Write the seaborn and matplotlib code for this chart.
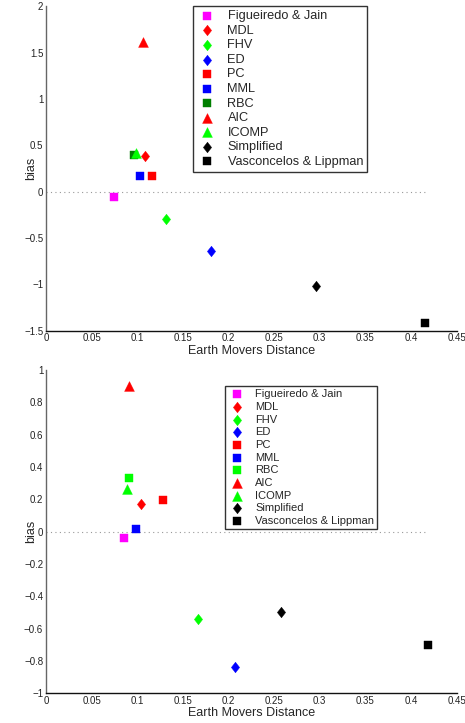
import numpy as np
import pandas as pd
import matplotlib
matplotlib.use("Agg")
import matplotlib.pyplot as plt
from matplotlib.path import Path
import seaborn as sns

# methods and their marker styles
methods = ["Figueiredo & Jain", "MDL", "FHV", "ED", "PC", "MML", "RBC",
           "AIC", "ICOMP", "Simplified", "Vasconcelos & Lippman"]

# top panel values
emd_top = [0.074, 0.1085, 0.1317, 0.181, 0.116, 0.103, 0.0964, 0.106, 0.099, 0.296, 0.4157]
bias_top = [-0.057, 0.38, -0.30, -0.637, 0.166, 0.166, 0.40, 1.62, 0.42, -1.018, -1.42]

# bottom panel values
emd_bot = [0.0858, 0.104, 0.1666, 0.2068, 0.1286, 0.099, 0.0913, 0.0913, 0.0884, 0.257, 0.4186]
bias_bot = [-0.041, 0.174, -0.543, -0.839, 0.197, 0.018, 0.334, 0.90, 0.263, -0.50, -0.70]

# matlab style diamond (a bit wider than mpl's thin diamond)
diamond = Path([(0, 1), (0.78, 0), (0, -1), (-0.78, 0), (0, 1)],
               [Path.MOVETO, Path.LINETO, Path.LINETO, Path.LINETO, Path.CLOSEPOLY])

markers = {"Figueiredo & Jain": "s", "MDL": "d", "FHV": "d", "ED": "d", "PC": "s",
           "MML": "s", "RBC": "s", "AIC": "^", "ICOMP": "^", "Simplified": "d",
           "Vasconcelos & Lippman": "s"}
colors_top = {"Figueiredo & Jain": "#ff00ff", "MDL": "#ff0000", "FHV": "#00ff00",
              "ED": "#0000ff", "PC": "#ff0000", "MML": "#0000ff", "RBC": "#007f00",
              "AIC": "#ff0000", "ICOMP": "#00ff00", "Simplified": "#000000",
              "Vasconcelos & Lippman": "#000000"}
colors_bot = dict(colors_top)
colors_bot["RBC"] = "#00ff00"
sizes = {"s": 26, "d": 58, "^": 50}

sns.set_style("white")
plt.rcParams['font.family'] = ['Liberation Sans', 'DejaVu Sans']

fig = plt.figure(figsize=(4.65, 7.23), dpi=100)
W, H = 465, 723


def panel(rect, emd, bias, colors, ylim, yticks, leg_anchor, leg_fs, leg_sp):
    ax = fig.add_axes(rect)
    df = pd.DataFrame({"emd": emd, "bias": bias, "method": methods})
    ax.plot([0, max(emd)], [0, 0], linestyle=(0, (1, 3)), color="#999999", lw=0.8, zorder=1)
    for m in methods:
        sub = df[df.method == m]
        mk = markers[m]
        sns.scatterplot(data=sub, x="emd", y="bias", ax=ax, color=colors[m],
                        marker=diamond if mk == "d" else mk, s=sizes[mk],
                        edgecolor=colors[m], linewidth=0.3, label=m, zorder=3)
    ax.set_xlim(0, 0.45)
    ax.set_ylim(*ylim)
    ax.set_xticks(np.arange(0, 0.451, 0.05))
    ax.set_xticklabels(["0", "0.05", "0.1", "0.15", "0.2", "0.25", "0.3", "0.35", "0.4", "0.45"])
    ax.set_yticks(yticks)
    ax.set_yticklabels([("%g" % v).replace("-", "\u2212") for v in yticks])
    ax.tick_params(direction="in", length=3, width=0.8, labelsize=7, pad=2,
                   colors="#222222")
    for s in ["top", "right"]:
        ax.spines[s].set_visible(False)
    ax.spines["left"].set_color("#666666")
    ax.spines["bottom"].set_color("#111111")
    ax.spines["left"].set_linewidth(1.0)
    ax.spines["bottom"].set_linewidth(1.0)
    ax.set_xlabel("Earth Movers Distance", fontsize=9, labelpad=1)
    ax.set_ylabel("bias", fontsize=9)
    ax.yaxis.set_label_coords(-0.022, 0.5)
    leg = ax.legend(loc="upper left", bbox_to_anchor=leg_anchor, fontsize=leg_fs,
                    frameon=True, fancybox=False, edgecolor="black",
                    borderpad=0.3, labelspacing=leg_sp, handletextpad=0.8,
                    handlelength=1.6, borderaxespad=0)
    leg.get_frame().set_linewidth(1.0)
    return ax


# axes rectangles in figure fractions (from pixel extents)
top_rect = [46 / W, 1 - 330.6 / H, (456.7 - 46) / W, (330.6 - 6.4) / H]
bot_rect = [46 / W, 1 - 693.3 / H, (456.7 - 46) / W, (693.3 - 370) / H]

panel(top_rect, emd_top, bias_top, colors_top, (-1.5, 2),
      [-1.5, -1, -0.5, 0, 0.5, 1, 1.5, 2],
      ((193 - 46) / (456.7 - 46), 1.0), 9.2, 0.2)
panel(bot_rect, emd_bot, bias_bot, colors_bot, (-1, 1),
      [-1, -0.8, -0.6, -0.4, -0.2, 0, 0.2, 0.4, 0.6, 0.8, 1],
      ((225 - 46) / (456.7 - 46), 1 - (386 - 370) / (693.3 - 370)), 8, 0.24)

fig.savefig("out.png", dpi=100)
